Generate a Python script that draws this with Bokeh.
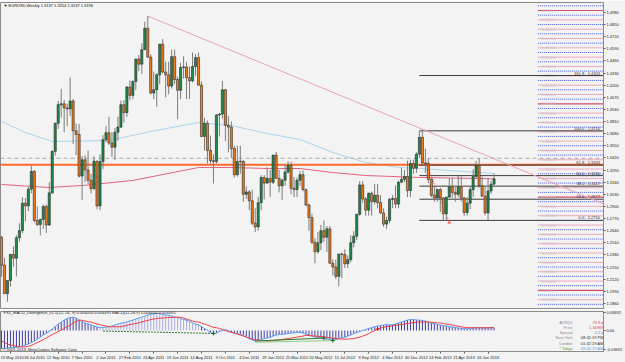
import numpy as np
from bokeh.plotting import figure
from bokeh.layouts import column
from bokeh.models import Range1d, FixedTicker, Label, PrintfTickFormatter, ColumnDataSource
from bokeh.embed import file_html
from bokeh.resources import INLINE
from bokeh.core.properties import value

# ---------------- data (weekly EURUSD) ----------------
bar_open = [1.2570,1.2270,1.1965,1.2105,1.2385,1.2345,1.2565,1.2640,1.2935,1.2905,
            1.3085,1.3275,1.2750,1.2705,1.2760,1.2900,1.2700,1.3045,1.3490,1.3790,
            1.3990,1.4000,1.3955,1.3945,1.4030,1.3710,1.3670,1.3225,1.3400,1.3290,
            1.3180,1.3090,1.3385,1.2905,1.3380,1.3615,1.3690,1.3580,1.3535,1.3695,
            1.3750,1.3990,1.3905,1.4180,1.4090,1.4240,1.4480,1.4425,1.4580,1.4810,
            1.4500,1.4115,1.4150,1.4310,1.4640,1.4340,1.4310,1.4190,1.4505,1.4260,
            1.4145,1.4390,1.4395,1.4280,1.4245,1.4400,1.4495,1.4200,1.3650,1.3790,
            1.3500,1.3390,1.3380,1.3880,1.3890,1.4150,1.3770,1.3750,1.3520,1.3240,
            1.3380,1.3385,1.3030,1.3055,1.2960,1.2720,1.2680,1.2940,1.3210,1.3150,
            1.3200,1.3160,1.3450,1.3200,1.3120,1.3180,1.3270,1.3340,1.3095,1.3080,
            1.3180,1.3240,1.3080,1.2915,1.2780,1.2515,1.2415,1.2510,1.2640,1.2570,
            1.2660,1.2290,1.2250,1.2150,1.2390,1.2385,1.2285,1.2330,1.2510,1.2580,
            1.2815,1.3130,1.2980,1.2860,1.3040,1.2950,1.3020,1.2940,1.2830,1.2710,
            1.2750,1.2975,1.2985,1.2925,1.3160,1.3190,1.3220,1.3070,1.3360,1.3310,
            1.3460,1.3640,1.3365,1.3360,1.3190,1.3020,1.2990,1.3080,1.2990,1.2820,
            1.3000,1.3110,1.3050,1.3030,1.3110,1.2990,1.2835,1.2935,1.3080,1.3220,
            1.3340,1.3120,1.3010,1.2830,1.3065,1.3137]
bar_high = [1.2580,1.2350,1.2110,1.2390,1.2470,1.2590,1.2720,1.3000,1.2990,1.3110,
            1.3335,1.3290,1.2900,1.2770,1.2920,1.2920,1.3160,1.3500,1.3800,1.4030,
            1.4160,1.4040,1.4000,1.4280,1.4050,1.3790,1.3785,1.3440,1.3450,1.3500,
            1.3250,1.3435,1.3390,1.3460,1.3665,1.3760,1.3860,1.3695,1.3740,1.3860,
            1.4035,1.4040,1.4190,1.4250,1.4250,1.4480,1.4520,1.4650,1.4880,1.4940,
            1.4530,1.4345,1.4330,1.4640,1.4695,1.4450,1.4450,1.4580,1.4580,1.4290,
            1.4440,1.4510,1.4450,1.4400,1.4550,1.4535,1.4550,1.4240,1.3850,1.3820,
            1.3660,1.3460,1.3890,1.3900,1.4245,1.4160,1.3870,1.3810,1.3550,1.3550,
            1.3550,1.3390,1.3115,1.3075,1.3080,1.2880,1.3000,1.3235,1.3235,1.3320,
            1.3290,1.3450,1.3485,1.3290,1.3200,1.3350,1.3385,1.3380,1.3215,1.3210,
            1.3280,1.3285,1.3090,1.2930,1.2820,1.2560,1.2625,1.2700,1.2750,1.2690,
            1.2690,1.2330,1.2330,1.2390,1.2405,1.2440,1.2375,1.2590,1.2635,1.2815,
            1.3170,1.3170,1.3000,1.3050,1.3060,1.3140,1.3140,1.3020,1.2880,1.2790,
            1.2990,1.3020,1.3125,1.3175,1.3310,1.3290,1.3390,1.3400,1.3400,1.3480,
            1.3710,1.3700,1.3520,1.3410,1.3200,1.3110,1.3090,1.3100,1.3000,1.3000,
            1.3200,1.3200,1.3110,1.3240,1.3220,1.3000,1.3000,1.3110,1.3300,1.3390,
            1.3416,1.3220,1.3110,1.3205,1.3175,1.3254]
bar_low = [1.2145,1.1960,1.1876,1.2040,1.2255,1.2150,1.2520,1.2610,1.2740,1.2850,
           1.3040,1.2730,1.2690,1.2590,1.2660,1.2615,1.2690,1.3035,1.3445,1.3730,
           1.3850,1.3695,1.3760,1.3870,1.3570,1.3450,1.3210,1.2970,1.3160,1.3140,
           1.3040,1.3080,1.2870,1.2860,1.3300,1.3590,1.3560,1.3430,1.3400,1.3605,
           1.3740,1.3800,1.3860,1.4040,1.4050,1.4150,1.4350,1.4320,1.4580,1.4500,
           1.4100,1.4050,1.3970,1.4210,1.4330,1.4070,1.4100,1.4165,1.4210,1.3835,
           1.4050,1.4270,1.4050,1.4050,1.4230,1.4300,1.4200,1.3640,1.3500,1.3360,
           1.3360,1.3145,1.3360,1.3650,1.3840,1.3600,1.3480,1.3420,1.3210,1.3220,
           1.3250,1.2950,1.2980,1.2860,1.2700,1.2625,1.2640,1.2860,1.2975,1.3140,
           1.3000,1.3140,1.3200,1.3050,1.2970,1.3120,1.3250,1.3030,1.3000,1.3000,
           1.3120,1.3060,1.2900,1.2640,1.2495,1.2290,1.2390,1.2430,1.2520,1.2410,
           1.2290,1.2160,1.2120,1.2042,1.2130,1.2240,1.2240,1.2300,1.2460,1.2540,
           1.2800,1.2940,1.2800,1.2800,1.2800,1.2920,1.2880,1.2820,1.2680,1.2660,
           1.2720,1.2880,1.2880,1.2880,1.3150,1.3160,1.3000,1.3000,1.3250,1.3260,
           1.3420,1.3360,1.3260,1.3150,1.3000,1.2950,1.2950,1.2840,1.2750,1.2745,
           1.2990,1.2990,1.2950,1.3000,1.2950,1.2800,1.2800,1.2870,1.3000,1.3200,
           1.3100,1.3000,1.2805,1.2755,1.3035,1.3137]
bar_close = [1.2270,1.1965,1.2105,1.2385,1.2345,1.2565,1.2640,1.2935,1.2905,1.3085,
             1.3275,1.2750,1.2705,1.2760,1.2900,1.2700,1.3045,1.3490,1.3790,1.3990,
             1.4000,1.3955,1.3945,1.4030,1.3710,1.3670,1.3225,1.3400,1.3290,1.3180,
             1.3090,1.3385,1.2905,1.3380,1.3615,1.3690,1.3580,1.3535,1.3695,1.3750,
             1.3990,1.3905,1.4180,1.4090,1.4240,1.4480,1.4425,1.4580,1.4810,1.4500,
             1.4115,1.4150,1.4310,1.4640,1.4340,1.4310,1.4190,1.4505,1.4260,1.4145,
             1.4390,1.4395,1.4280,1.4245,1.4400,1.4495,1.4200,1.3650,1.3790,1.3500,
             1.3390,1.3380,1.3880,1.3890,1.4150,1.3770,1.3750,1.3520,1.3240,1.3380,
             1.3385,1.3030,1.3055,1.2960,1.2720,1.2680,1.2940,1.3210,1.3150,1.3200,
             1.3160,1.3450,1.3200,1.3120,1.3180,1.3270,1.3340,1.3095,1.3080,1.3180,
             1.3240,1.3080,1.2915,1.2780,1.2515,1.2415,1.2510,1.2640,1.2570,1.2660,
             1.2290,1.2250,1.2150,1.2390,1.2385,1.2285,1.2330,1.2510,1.2580,1.2815,
             1.3130,1.2980,1.2860,1.3040,1.2950,1.3020,1.2940,1.2830,1.2710,1.2750,
             1.2975,1.2985,1.2925,1.3160,1.3190,1.3220,1.3070,1.3360,1.3310,1.3460,
             1.3640,1.3365,1.3360,1.3190,1.3020,1.2990,1.3080,1.2990,1.2820,1.3000,
             1.3110,1.3050,1.3030,1.3110,1.2990,1.2835,1.2935,1.3080,1.3220,1.3340,
             1.3120,1.3010,1.2830,1.3065,1.3137,1.3196]

# moving averages (bar index, price)
ma_blue_bar = [0, 8, 17, 36, 50, 66, 77, 89, 100, 111, 122, 133, 140, 165]
ma_blue_val = [1.3810, 1.3692, 1.3596, 1.3606, 1.3703, 1.3799, 1.3767, 1.3681,
               1.3617, 1.3478, 1.3371, 1.3317, 1.3306, 1.3253]
ma_red_bar = [0, 16, 27, 44, 66, 77, 89, 100, 111, 122, 140, 159, 165]
ma_red_val = [1.3135, 1.3103, 1.3124, 1.3178, 1.3317, 1.3317, 1.3306, 1.3306,
              1.3263, 1.3231, 1.3210, 1.3199, 1.3195]

# trend line (from the May-2011 top) and price-divergence line
trend_bar = [49, 136]
trend_val = [1.4940, 1.3793]
div_price_bar = [142, 150]
div_price_val = [1.3392, 1.2727]

# Fibonacci levels
fib_names = ["161.8", "100.0", "61.8", "50.0", "38.2", "23.6", "0.0"]
fib_vals = [1.4303, 1.3710, 1.3343, 1.3230, 1.3117, 1.2977, 1.2750]
fib_start_bar = 140

orange_level = 1.3347
gray_level = 1.3416
last_price = 1.3196

price_ticks = [1.4980, 1.4850, 1.4720, 1.4590, 1.4460, 1.4330, 1.4200, 1.4070, 1.3940,
               1.3810, 1.3680, 1.3550, 1.3420, 1.3290, 1.3160, 1.3030, 1.2900, 1.2770,
               1.2640, 1.2510, 1.2380, 1.2250, 1.2120, 1.1990, 1.1860]

date_bars = [0, 8, 16, 24, 32, 40, 48, 56, 64, 72, 80, 88, 96, 104, 112, 120, 128, 136,
             144, 152, 160]
date_labels = ["23 May 2010", "18 Jul 2010", "12 Sep 2010", "7 Nov 2010", "2 Jan 2011",
               "27 Feb 2011", "24 Apr 2011", "19 Jun 2011", "14 Aug 2011", "9 Oct 2011",
               "4 Dec 2011", "29 Jan 2012", "25 Mar 2012", "20 May 2012", "15 Jul 2012",
               "9 Sep 2012", "4 Nov 2012", "30 Dec 2012", "24 Feb 2013", "21 Apr 2013",
               "16 Jun 2013"]

# MACD (main = histogram / blue line, signal = red line)
macd_main = [-0.0360,-0.0355,-0.0350,-0.0342,-0.0340,-0.0335,-0.0323,-0.0310,-0.0290,-0.0270,-0.0240,-0.0209,
             -0.0170,-0.0130,-0.0090,-0.0055,-0.0019,
             0.0030,0.0080,0.0130,0.0170,0.0209,0.0240,0.0260,0.0266,
             0.0250,0.0209,0.0180,0.0150,0.0130,0.0114,0.0090,0.0070,0.0057,
             0.0060,0.0070,0.0076,0.0090,0.0110,0.0130,0.0145,0.0160,0.0171,
             0.0190,0.0210,0.0230,0.0250,0.0266,0.0290,0.0310,0.0330,0.0335,0.0342,
             0.0340,0.0320,0.0310,0.0304,0.0290,0.0270,0.0260,0.0240,0.0220,0.0209,
             0.0180,0.0150,0.0130,0.0114,0.0080,0.0040,0.0005,-0.0040,-0.0076,
             -0.0050,-0.0020,0.0000,0.0019,
             -0.0010,-0.0030,-0.0050,-0.0065,-0.0076,-0.0100,-0.0130,-0.0160,-0.0190,-0.0209,
             -0.0200,-0.0180,-0.0160,-0.0150,-0.0133,-0.0110,-0.0090,-0.0080,-0.0076,
             -0.0070,-0.0060,-0.0050,-0.0045,-0.0040,-0.0038,-0.0050,-0.0070,-0.0090,-0.0114,
             -0.0130,-0.0140,-0.0150,-0.0160,-0.0170,-0.0180,-0.0190,
             -0.0180,-0.0160,-0.0150,-0.0133,-0.0110,-0.0090,-0.0060,-0.0040,-0.0019,
             0.0000,0.0020,0.0040,0.0060,0.0076,0.0090,0.0100,0.0110,0.0115,0.0115,0.0114,
             0.0130,0.0150,0.0170,0.0190,0.0209,0.0220,0.0220,0.0210,0.0209,
             0.0200,0.0190,0.0170,0.0152,0.0140,0.0120,0.0110,0.0100,0.0090,0.0076,
             0.0070,0.0060,0.0050,0.0045,0.0038,0.0040,0.0045,0.0050,0.0055,0.0057,
             0.0055,0.0050,0.0055,0.0060,0.0057]
macd_signal = [-0.0209,-0.0240,-0.0270,-0.0285,-0.0300,-0.0315,-0.0323,-0.0330,-0.0325,-0.0315,-0.0295,-0.0266,
               -0.0240,-0.0210,-0.0180,-0.0148,-0.0114,
               -0.0080,-0.0050,-0.0020,0.0010,0.0040,0.0076,
               0.0110,0.0150,0.0180,0.0209,
               0.0205,0.0190,0.0175,0.0171,0.0150,0.0130,0.0114,
               0.0100,0.0090,0.0080,0.0076,0.0076,0.0076,0.0076,
               0.0090,0.0105,0.0120,0.0130,0.0140,0.0152,
               0.0170,0.0190,0.0200,0.0220,0.0230,0.0240,0.0247,
               0.0250,0.0255,0.0260,0.0262,0.0264,0.0266,0.0266,
               0.0250,0.0230,0.0210,0.0190,0.0175,0.0171,
               0.0150,0.0130,0.0110,0.0085,0.0065,0.0057,
               0.0040,0.0020,0.0000,-0.0020,-0.0038,
               -0.0050,-0.0070,-0.0090,-0.0110,-0.0130,-0.0150,-0.0171,
               -0.0180,-0.0190,-0.0200,-0.0205,-0.0209,
               -0.0205,-0.0200,-0.0192,-0.0184,-0.0176,-0.0170,
               -0.0160,-0.0150,-0.0140,-0.0130,-0.0120,-0.0110,-0.0095,
               -0.0100,-0.0105,-0.0110,-0.0115,-0.0120,-0.0127,-0.0133,-0.0145,-0.0155,-0.0160,
               -0.0165,-0.0170,-0.0171,-0.0170,-0.0165,-0.0160,-0.0145,-0.0133,-0.0110,-0.0090,
               -0.0060,-0.0030,0.0000,0.0030,0.0050,0.0065,0.0076,0.0085,0.0095,0.0105,
               0.0114,0.0120,0.0130,0.0140,0.0150,0.0160,0.0165,0.0170,0.0171,0.0171,
               0.0170,0.0165,0.0160,0.0155,0.0152,0.0140,0.0130,0.0120,0.0110,0.0095,
               0.0085,0.0075,0.0065,0.0060,0.0057,0.0055,0.0055,0.0055,0.0055,0.0055,
               0.0055,0.0056,0.0057]
# stretch of bars whose histogram is drawn in the pale colour
hist_pale_from, hist_pale_to = 33, 66

# divergence lines drawn by the indicator
div1_bar, div1_val = [34, 71], [-0.0010, -0.0057]
div2_bar, div2_val = [85, 108], [-0.0209, -0.0150]
div3_bar, div3_val = [85, 111], [-0.0235, -0.0200]
bull_mark_bar, bull_mark_val = [71, 108, 111], [-0.0057, -0.0150, -0.0200]
bear_mark_bar, bear_mark_val = [126, ], [0.0030]

macd_ticks = [0.0369, 0.0, -0.0369]
macd_tick_labels = ["0.03692", "0.00", "-0.03692"]

title_text = "\u25BC EURUSD,Weekly  1.3137 1.3254 1.3137 1.3196"
macd_title = "FX5_MACD_Divergence_v1.1(12, 26, 9) 0.004050 0.004495  MACD(12,26,9) 0.004050 0.004495"
copyright_text = "\u00A9 2001-2013, MetaQuotes Software Corp."
info_names = ["ADR(5)", "Price", "Spread", "New York", "London", "* Tokyo"]
info_values = ["73.9 p", "1.31969", "2.2 p", "08:42:19 PM", "01:42:19 AM", "09:42:19 AM"]

# ---------------- styling / geometry ----------------
BG = "#f3f3f3"
FONT = "Liberation Sans"
FS = "4px"
FRAME_RIGHT_PX = 606
X0, X1 = -1.0 / 3.0, (FRAME_RIGHT_PX - 1) / 3.0


def price_at(ypx):
    return 1.5 - (ypx - 10) * 0.001072


n = min(len(bar_open), len(bar_high), len(bar_low), len(bar_close))
idx = np.arange(n)
o = np.array(bar_open[:n]); h = np.array(bar_high[:n])
l = np.array(bar_low[:n]); c = np.array(bar_close[:n])
up = c >= o

xr = Range1d(X0, X1)
main = figure(width=625, height=309, x_range=xr, y_range=Range1d(price_at(309), price_at(2)),
              x_axis_location=None, y_axis_location="right", toolbar_location=None,
              output_backend="svg", min_border_left=0, min_border_right=19,
              min_border_top=2, min_border_bottom=0, background_fill_color=BG,
              border_fill_color=BG, outline_line_color="#8c8c8c")
main.grid.visible = False
ya = main.yaxis[0]
ya.ticker = FixedTicker(ticks=price_ticks)
ya.formatter = PrintfTickFormatter(format="%.4f")
ya.major_label_text_font_size = FS
ya.major_label_text_font = FONT
ya.major_label_text_color = "#202020"
ya.major_tick_out = 2
ya.major_tick_in = 0
ya.minor_tick_out = 0
ya.minor_tick_in = 0
ya.major_label_standoff = 1
ya.axis_line_color = "#8c8c8c"
ya.major_tick_line_color = "#606060"

# right-side round-number levels
lvl_x0 = (540 - 1) / 3.0
pink_levels = np.round(np.arange(1.19, 1.5001, 0.01), 2)
half_levels = np.round(np.arange(1.185, 1.5051, 0.01), 3)
major = np.isclose(np.round(pink_levels * 10, 6) % 1, 0)
main.segment(x0=lvl_x0, x1=X1, y0=pink_levels[~major], y1=pink_levels[~major],
             line_color="#efa9ba", line_width=1)
main.segment(x0=lvl_x0, x1=X1, y0=pink_levels[major], y1=pink_levels[major],
             line_color="#d34d6c", line_width=1.2)
main.segment(x0=lvl_x0, x1=X1, y0=half_levels, y1=half_levels,
             line_color="#4a5ae6", line_width=1, line_dash="1 1")
main.text(x=[lvl_x0 + 1.2] * len(pink_levels), y=list(pink_levels),
          text=[f"{v:.5f}" for v in pink_levels], text_font=value(FONT),
          text_font_size=FS, text_color="#c4c4cc", text_baseline="middle")

# moving averages
main.line(ma_blue_bar, ma_blue_val, line_color="#a9d5ee", line_width=1)
main.line(ma_red_bar, ma_red_val, line_color="#e3637f", line_width=1)

# horizontal lines
main.segment(x0=X0, x1=X1, y0=gray_level, y1=gray_level, line_color="#a9a9a9",
             line_width=1, line_dash="4 3")
main.segment(x0=X0, x1=X1, y0=orange_level, y1=orange_level, line_color="#ff6a2c",
             line_width=2)

# fib levels
main.segment(x0=fib_start_bar, x1=X1, y0=fib_vals, y1=fib_vals, line_color="#3c3c3c",
             line_width=1)
main.text(x=[X1 - 1.2] * len(fib_vals), y=fib_vals,
          text=[f"{a} - {b:.4f}" for a, b in zip(fib_names, fib_vals)],
          text_font=value(FONT), text_font_size=FS, text_color="#303030",
          text_align="right", text_baseline="bottom")

# trend line extended to the right edge
slope = (trend_val[1] - trend_val[0]) / (trend_bar[1] - trend_bar[0])
main.line([trend_bar[0], X1], [trend_val[0], trend_val[0] + slope * (X1 - trend_bar[0])],
          line_color="#e9a2b5", line_width=1)
main.line(div_price_bar, div_price_val, line_color="#e24848", line_width=1, line_dash="1 1")
main.scatter([div_price_bar[1]], [div_price_val[1]], marker="x", size=4,
             line_color="#e24848")

# candles
main.segment(x0=idx, x1=idx, y0=l, y1=h, line_color="#7c7c7c", line_width=1)
src_up = ColumnDataSource(dict(x=idx[up], b=o[up], t=c[up]))
src_dn = ColumnDataSource(dict(x=idx[~up], b=c[~up], t=o[~up]))
main.vbar(x="x", bottom="b", top="t", width=0.72, source=src_up, fill_color="#1b8a4a",
          line_color="#2a2a2a", line_width=0.6)
main.vbar(x="x", bottom="b", top="t", width=0.72, source=src_dn, fill_color="#f27a16",
          line_color="#2a2a2a", line_width=0.6)

# labels
main.add_layout(Label(x=3, y=304, x_units="screen", y_units="screen", text=title_text,
                      text_font=FONT, text_font_size=FS, text_color="#101010",
                      text_baseline="middle"))
for lv, bg, fg, bd in [(gray_level, "#ffffff", "#404040", "#9a9a9a"),
                       (orange_level, "#ff5a1e", "#ffffff", "#ff5a1e"),
                       (last_price, "#000000", "#ffffff", "#000000")]:
    main.add_layout(Label(x=FRAME_RIGHT_PX + 1, y=lv, x_units="screen", y_units="data",
                          text=f"{lv:.4f}", text_font=FONT, text_font_size=FS,
                          text_color=fg, text_baseline="middle",
                          background_fill_color=bg, border_line_color=bd))

# ---------------- MACD panel ----------------
macd = figure(width=625, height=53, x_range=xr, y_range=Range1d(-0.0418, 0.038),
              y_axis_location="right", toolbar_location=None, output_backend="svg",
              min_border_left=0, min_border_right=19, min_border_top=2,
              min_border_bottom=9, background_fill_color=BG, border_fill_color=BG,
              outline_line_color="#8c8c8c")
macd.grid.visible = False
m = np.array(macd_main[:n]); s = np.array(macd_signal[:n])
light = (idx >= hist_pale_from) & (idx <= hist_pale_to)
macd.vbar(x=idx[~light], bottom=0, top=m[~light], width=0.33, fill_color="#3d3dab",
          line_color=None)
macd.vbar(x=idx[light], bottom=0, top=m[light], width=0.33, fill_color="#aaaae0",
          line_color=None)
macd.line(idx, m, line_color="#5b9ff0", line_width=1)
macd.line(idx, s, line_color="#f03f3f", line_width=1)
macd.line(div1_bar, div1_val, line_color="#2d7d2d", line_width=1, line_dash="2 1")
macd.line(div2_bar, div2_val, line_color="#2d7d2d", line_width=1)
macd.line(div3_bar, div3_val, line_color="#8fd08f", line_width=1)
macd.scatter(bull_mark_bar, bull_mark_val, marker="cross", size=4, line_color="#1c6b1c",
             line_width=1)
macd.scatter(bear_mark_bar, bear_mark_val, marker="cross", size=4, line_color="#d01818",
             line_width=1)

my = macd.yaxis[0]
my.ticker = FixedTicker(ticks=macd_ticks)
my.major_label_overrides = {t: lab for t, lab in zip(macd_ticks, macd_tick_labels)}
mx = macd.xaxis[0]
mx.ticker = FixedTicker(ticks=[b + 3 for b in date_bars])
mx.major_label_overrides = {b + 3: lab for b, lab in zip(date_bars, date_labels)}
for ax in (my, mx):
    ax.major_label_text_font_size = FS
    ax.major_label_text_font = FONT
    ax.major_label_text_color = "#202020"
    ax.major_tick_out = 2
    ax.major_tick_in = 0
    ax.minor_tick_out = 0
    ax.minor_tick_in = 0
    ax.major_label_standoff = 1
    ax.axis_line_color = "#8c8c8c"
    ax.major_tick_line_color = "#606060"

macd.add_layout(Label(x=3, y=39, x_units="screen", y_units="screen", text=macd_title,
                      text_font=FONT, text_font_size=FS, text_color="#202020",
                      text_baseline="middle"))
macd.add_layout(Label(x=2, y=2, x_units="screen", y_units="screen", text=copyright_text,
                      text_font=FONT, text_font_size=FS, text_color="#202020",
                      text_baseline="middle"))
row_y = [29, 23.7, 18.7, 13.7, 8.3, 3]
name_colors = ["#8c8c8c", "#8c8c8c", "#8c8c8c", "#8c8c8c", "#8c8c8c", "#3aa83a"]
val_colors = ["#e83232", "#e83232", "#4a78c8", "#303030", "#303030", "#55a5ea"]
for yy, nm, vl, nc, vc in zip(row_y, info_names, info_values, name_colors, val_colors):
    macd.add_layout(Label(x=572, y=yy, x_units="screen", y_units="screen", text=nm,
                          text_font=FONT, text_font_size=FS, text_color=nc,
                          text_align="right", text_baseline="middle"))
    macd.add_layout(Label(x=603, y=yy, x_units="screen", y_units="screen", text=vl,
                          text_font=FONT, text_font_size=FS, text_color=vc,
                          text_align="right", text_baseline="middle"))

layout = column(main, macd, spacing=0)
open("out.html", "w").write(file_html(layout, INLINE))
